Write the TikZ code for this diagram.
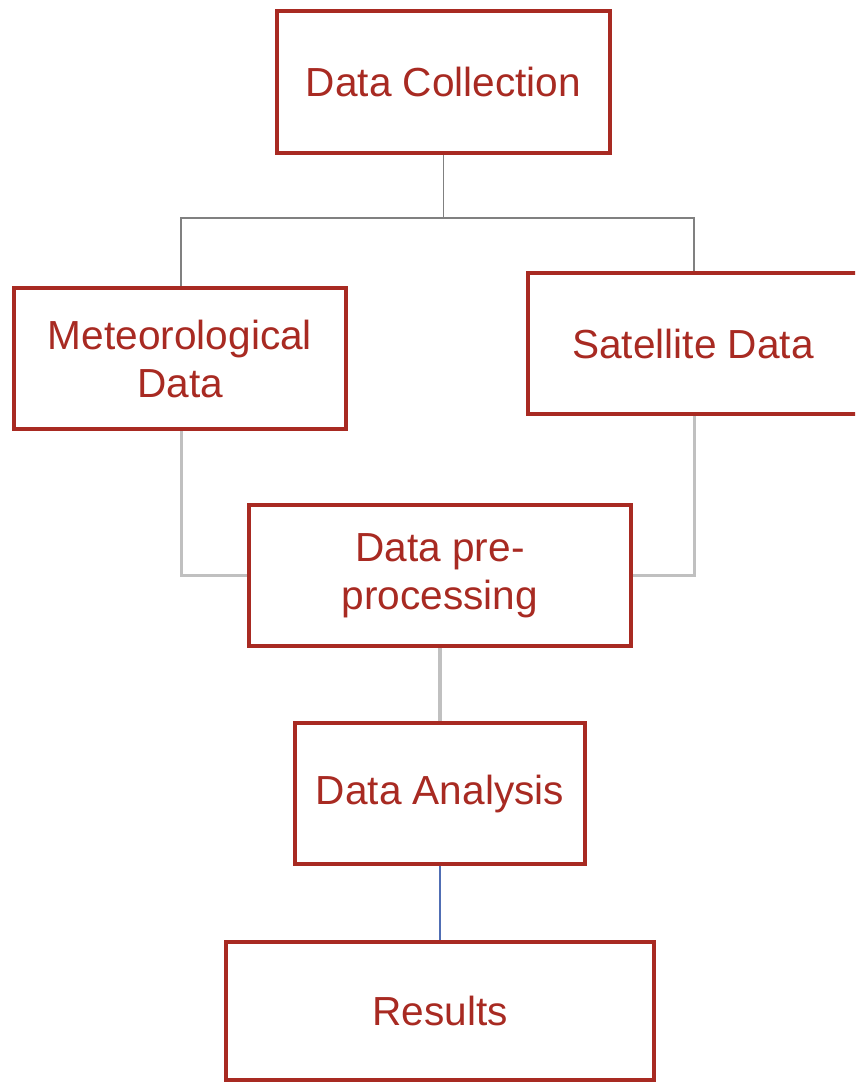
\documentclass[tikz,border=0pt]{standalone}
\usepackage{fontspec}
\setmainfont{Liberation Sans}
\definecolor{boxred}{RGB}{168,42,34}
\definecolor{lgray}{RGB}{192,192,192}
\definecolor{dgray}{RGB}{128,128,128}
\definecolor{lblue}{RGB}{80,110,180}
\begin{document}
\begin{tikzpicture}[x=1pt,y=-1pt,
  stepbox/.style={draw=boxred,line width=4pt,fill=white,text=boxred,
    font=\fontsize{40.6}{48}\selectfont,align=center,inner sep=0pt},
  conn/.style={draw=lgray,line width=3pt},
  thinconn/.style={draw=dgray,line width=1.6pt}]
\useasboundingbox (0,0) rectangle (855,1085);
\clip (0,0) rectangle (855,1085);
\coordinate (jc) at (443.5,218);
\coordinate (jl) at (181,218);
\coordinate (jr) at (694,218);
\coordinate (ml) at (181,575);
\coordinate (mr) at (694,575);
\node[stepbox,minimum width=333pt,minimum height=142pt] (dc) at (443.5,82) {Data Collection};
\node[stepbox,minimum width=332pt,minimum height=141pt] (met) at (180,358.5) {Meteorological\\Data};
\node[stepbox,minimum width=330pt,minimum height=141pt] (sat) at (693,343.5) {Satellite Data};
\node[stepbox,minimum width=382pt,minimum height=141pt] (pre) at (440,575.5) {\raisebox{-4pt}{Data pre-}\\\raisebox{-4pt}{processing}};
\node[stepbox,minimum width=290pt,minimum height=141pt] (ana) at (440,793.5) {\raisebox{-4pt}{Data Analysis}};
\node[stepbox,minimum width=428pt,minimum height=138pt] (res) at (440,1011) {Results};
\draw[thinconn] (dc.south) -- (jc) -- (jl) -- (met.north -| jl);
\draw[thinconn] (jc) -- (jr) -- (sat.north -| jr);
\draw[conn] (met.south -| ml) -- (ml) -- (pre.west |- ml);
\draw[conn] (sat.south -| mr) -- (mr) -- (pre.east |- mr);
\draw[conn,line width=4pt] (pre.south) -- (ana.north);
\draw[draw=lblue,line width=1.5pt] (ana.south) -- (res.north);
\end{tikzpicture}
\end{document}
